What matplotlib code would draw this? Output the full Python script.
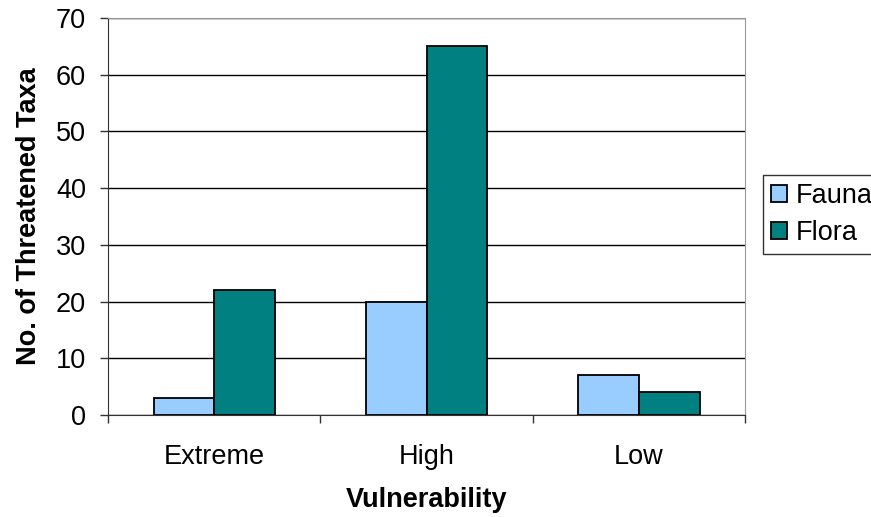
import matplotlib.pyplot as plt
import numpy as np

plt.rcParams['font.family'] = ['Liberation Sans', 'DejaVu Sans']

categories = ['Extreme', 'High', 'Low']
fauna = [3, 20, 7]
flora = [22, 65, 4]

fig = plt.figure(figsize=(8.71, 5.17), dpi=100)
ax = fig.add_axes([108 / 871, 1 - 415 / 517, (745 - 108) / 871, (415 - 18) / 517])

x = np.arange(len(categories))
w = 1 / 3.5
ax.bar(x - w / 2, fauna, w, color='#99CCFF', edgecolor='black', linewidth=1.3, label='Fauna', zorder=3)
ax.bar(x + w / 2, flora, w, color='#008080', edgecolor='black', linewidth=1.3, label='Flora', zorder=3)

ax.set_xlim(-0.5, 2.5)
ax.set_ylim(0, 70)
ax.set_yticks(range(0, 71, 10))
ax.yaxis.grid(True, color='black', linewidth=1)
ax.set_axisbelow(True)

fs = 19.5

# category labels in the middle, ticks on the group boundaries
ax.set_xticks(x)
ax.set_xticklabels(categories, fontsize=fs)
ax.tick_params(axis='x', length=0, pad=21)
ax.set_xticks([-0.5, 0.5, 1.5, 2.5], minor=True)
ax.tick_params(axis='x', which='minor', length=5.8, width=1, color='#333333')
ax.tick_params(axis='y', labelsize=fs, length=5.8, width=1, color='#333333', pad=10)

ax.spines['left'].set_color('#333333')
ax.spines['bottom'].set_color('#333333')
ax.spines['top'].set_color('#999999')
ax.spines['right'].set_color('#999999')

ax.set_xlabel('Vulnerability', fontsize=fs, fontweight='bold', labelpad=12)
ax.set_ylabel('No. of Threatened Taxa', fontsize=fs, fontweight='bold', labelpad=10)

leg = ax.legend(loc='upper left', bbox_to_anchor=(763 / 871, 1 - 175 / 517), bbox_transform=fig.transFigure,
                fontsize=fs, frameon=True, fancybox=False, edgecolor='black', borderaxespad=0,
                handlelength=0.6, handleheight=0.6, handletextpad=0.3, labelspacing=0.4, borderpad=0.3)
leg.get_frame().set_linewidth(1)

fig.savefig('out.png', dpi=100)
